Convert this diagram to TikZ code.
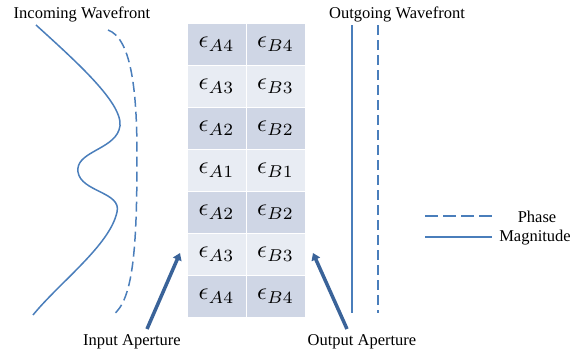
\documentclass[tikz,border=0pt]{standalone}
\usepackage{fontspec}
\setmainfont{Liberation Serif}
\usetikzlibrary{arrows.meta}
\definecolor{wave}{HTML}{4A7EBB}
\definecolor{arr}{HTML}{3A6399}
\definecolor{darkcell}{HTML}{CFD6E5}
\definecolor{lightcell}{HTML}{E8ECF3}
\newcommand{\epsc}[1]{\scalebox{2.45}{$\epsilon_{#1}$}}
\tikzset{
  wavesolid/.style={draw=wave, line width=1.5pt},
  wavedash/.style={draw=wave, line width=1.5pt, dash pattern=on 10pt off 5pt},
  aparrow/.style={draw=arr, line width=3.5pt, -{Triangle[length=7pt,width=9pt]}},
  lbl/.style={font=\fontsize{16.5}{18}\selectfont, inner sep=0pt},
  cell/.style={draw=white, line width=1pt, minimum width=59pt, minimum height=42pt, inner sep=0pt},
}
\begin{document}
\begin{tikzpicture}[x=1pt,y=-1pt]
\useasboundingbox (0,0) rectangle (571,356);
% table cells
\foreach \r/\na/\col in {0/4/darkcell,1/3/lightcell,2/2/darkcell,3/1/lightcell,4/2/darkcell,5/3/lightcell,6/4/darkcell}{
  \node[cell, fill=\col] (a\r) at (216.5,{44+42*\r}) {\epsc{A\na}};
  \node[cell, fill=\col] (b\r) at (275.5,{44+42*\r}) {\epsc{B\na}};
}
% incoming wavefront
\draw[wavesolid] (36,25) .. controls (80,65) and (128,108) .. (119,130)
  .. controls (112,150) and (75,152) .. (78,172)
  .. controls (81,192) and (122,192) .. (117,212)
  .. controls (110,245) and (60,282) .. (33,315);
\draw[wavedash] (108,30) .. controls (130,38) and (137,85) .. (137,155)
  .. controls (137,250) and (133,300) .. (113,315);
% outgoing wavefront
\coordinate (os1) at (352,25); \coordinate (os2) at (352,313);
\coordinate (od1) at (378,25); \coordinate (od2) at (378,313);
\draw[wavesolid] (os1) -- (os2);
\draw[wavedash] (od1) -- (od2);
% labels
\node[lbl] (inc) at (82,14) {Incoming Wavefront};
\node[lbl] (out) at (397,14) {Outgoing Wavefront};
\node[lbl] (inap) at (132,342) {Input Aperture};
\node[lbl] (outap) at (362,342) {Output Aperture};
% aperture arrows
\coordinate (ia) at (147,329); \coordinate (ib) at (180,253);
\coordinate (oa) at (347,329); \coordinate (ob) at (313,253);
\draw[aparrow] (ia) -- (ib);
\draw[aparrow] (oa) -- (ob);
% legend
\coordinate (lp1) at (425,216); \coordinate (lp2) at (492,216);
\coordinate (lm1) at (425,237); \coordinate (lm2) at (492,237);
\draw[wave, line width=1.5pt, dash pattern=on 13pt off 5pt] (lp1) -- (lp2);
\draw[wavesolid] (lm1) -- (lm2);
\node[lbl] (ph) at (537,217) {Phase};
\node[lbl] (mag) at (535,238) {Magnitude};
\end{tikzpicture}
\end{document}
